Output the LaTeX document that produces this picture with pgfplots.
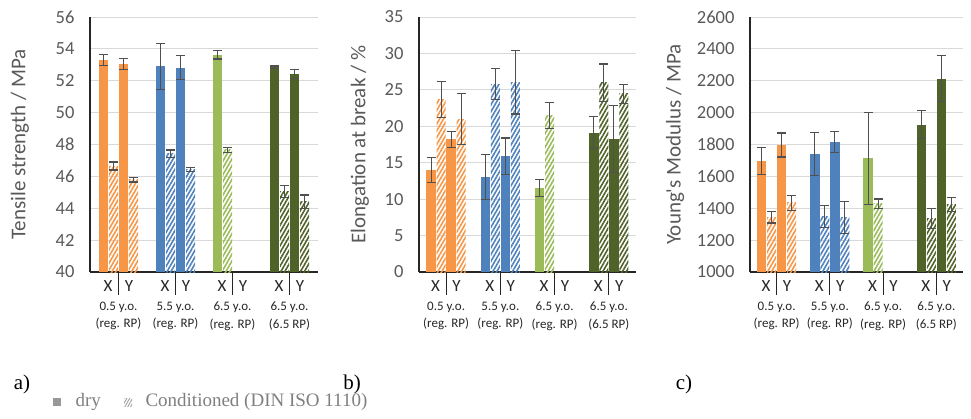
\documentclass[border=0pt]{standalone}
\usepackage{fontspec}
\setmainfont{Liberation Serif}
\newfontfamily\calibri{Carlito}
\usepackage{pgfplots}
\pgfplotsset{compat=1.18}
\usetikzlibrary{patterns.meta}
\definecolor{orng}{HTML}{F79646}
\definecolor{blu}{HTML}{4F81BD}
\definecolor{lgrn}{HTML}{9BBB59}
\definecolor{dgrn}{HTML}{4F6228}
\definecolor{errc}{HTML}{505050}
\definecolor{tickc}{HTML}{595959}
\definecolor{gridc}{HTML}{D9D9D9}
\definecolor{legc}{HTML}{7F7F7F}
\pgfplotsset{
  panel/.style={
    scale only axis, height=255pt,
    xmin=0, xmax=4, xtick=\empty,
    axis x line*=bottom, axis y line*=left,
    axis line style={-, black!85, line width=1.1pt},
    ymajorgrids, grid style={gridc, line width=0.9pt},
    major tick length=0pt,
    tick label style={font=\calibri\fontsize{18.5}{18.5}\selectfont, text=tickc},
    yticklabel style={xshift=-12pt},
    /pgf/number format/assume math mode=true,
    /pgf/number format/1000 sep={},
    ylabel style={font=\calibri\fontsize{21}{21}\selectfont, text=tickc, anchor=center},
    clip mode=individual,
  },
  eb/.style={error bars/y dir=both, error bars/y explicit,
    error bars/error mark=-,
    error bars/error bar style={errc, line width=1.2pt},
    error bars/error mark options={rotate=90, errc, line width=1.2pt, mark size=4.5pt}},
  dry/.style={ybar, bar shift=0pt, bar width=9.5pt, draw=none, fill=#1, eb},
  cond/.style={ybar, bar shift=0pt, bar width=9pt, draw=none, pattern={Lines[angle=60,distance=3.4pt,line width=1.6pt]}, pattern color=#1, eb},
}
\newcommand\B[6]{%
  \pgfmathsetmacro\xx{#4+#3/\unitpt}%
  \edef\tmp{\noexpand\addplot[#1=#2] coordinates {(\xx,#5) +- (0,#6)};}\tmp}
\newcommand\catlabels{%
  \pgfplotsinvokeforeach{0.125,0.375,0.625,0.875}{%
    \draw[black!85, line width=1pt] (rel axis cs:##1,0) -- ([yshift=-23pt]rel axis cs:##1,0);
    \node[font=\calibri\fontsize{17}{17}\selectfont, text=black!85] at ([xshift=-10.5pt,yshift=-14pt]rel axis cs:##1,0) {X};
    \node[font=\calibri\fontsize{17}{17}\selectfont, text=black!85] at ([xshift=10.5pt,yshift=-14pt]rel axis cs:##1,0) {Y};
  }
  \node[grp] at ([yshift=-44pt]rel axis cs:0.125,0) {0.5 y.o.\\(reg. RP)};
  \node[grp] at ([yshift=-44pt]rel axis cs:0.375,0) {5.5 y.o.\\(reg. RP)};
  \node[grp] at ([yshift=-44pt]rel axis cs:0.625,0) {6.5 y.o.\\(reg. RP)};
  \node[grp] at ([yshift=-44pt]rel axis cs:0.875,0) {6.5 y.o.\\(6.5 RP)};
}
\tikzset{grp/.style={font=\calibri\fontsize{13}{17.5}\selectfont, text=black!85, align=center}}
\begin{document}
\begin{tikzpicture}
\path[use as bounding box] (0,0) rectangle (971pt,418pt);
% ---------------- a) Tensile strength
\def\unitpt{57}
\begin{axis}[panel, at={(90pt,146pt)}, anchor=south west, width=228pt,
  ymin=40, ymax=56, ytick={40,42,...,56},
  ylabel={Tensile strength / MPa}, ylabel style={at={(axis description cs:-0.307,0.5)}}]
\B{dry}{orng}{-15}{0.5}{53.32}{0.35}
\B{cond}{orng}{-5}{0.5}{46.65}{0.25}
\B{dry}{orng}{5}{0.5}{53.05}{0.35}
\B{cond}{orng}{15}{0.5}{45.8}{0.15}
\B{dry}{blu}{-15}{1.5}{52.9}{1.45}
\B{cond}{blu}{-5}{1.5}{47.43}{0.23}
\B{dry}{blu}{5}{1.5}{52.82}{0.75}
\B{cond}{blu}{15}{1.5}{46.42}{0.12}
\B{dry}{lgrn}{-15}{2.5}{53.63}{0.26}
\B{cond}{lgrn}{-5}{2.5}{47.66}{0.17}
\B{dry}{dgrn}{-15}{3.5}{52.85}{0.08}
\B{cond}{dgrn}{-5}{3.5}{45.05}{0.36}
\B{dry}{dgrn}{5}{3.5}{52.42}{0.3}
\B{cond}{dgrn}{15}{3.5}{44.41}{0.42}
\catlabels
\end{axis}
% ---------------- b) Elongation
\def\unitpt{54.25}
\begin{axis}[panel, at={(419pt,146pt)}, anchor=south west, width=217pt,
  ymin=0, ymax=35, ytick={0,5,...,35},
  ylabel={Elongation at break / \%}, ylabel style={at={(axis description cs:-0.272,0.5)}}]
\B{dry}{orng}{-15}{0.5}{14.0}{1.7}
\B{cond}{orng}{-5}{0.5}{23.7}{2.45}
\B{dry}{orng}{5}{0.5}{18.2}{1.1}
\B{cond}{orng}{15}{0.5}{21.0}{3.5}
\B{dry}{blu}{-15}{1.5}{13.0}{3.1}
\B{cond}{blu}{-5}{1.5}{25.8}{2.1}
\B{dry}{blu}{5}{1.5}{15.9}{2.5}
\B{cond}{blu}{15}{1.5}{26.05}{4.35}
\B{dry}{lgrn}{-15}{2.5}{11.55}{1.15}
\B{cond}{lgrn}{-5}{2.5}{21.5}{1.8}
\B{dry}{dgrn}{-15}{3.5}{19.1}{2.2}
\B{cond}{dgrn}{-5}{3.5}{26.0}{2.55}
\B{dry}{dgrn}{5}{3.5}{18.25}{4.6}
\B{cond}{dgrn}{15}{3.5}{24.45}{1.3}
\catlabels
\end{axis}
% ---------------- c) Young's modulus
\def\unitpt{53.25}
\begin{axis}[panel, at={(750pt,146pt)}, anchor=south west, width=213pt,
  ymin=1000, ymax=2600, ytick={1000,1200,...,2600},
  ylabel={Young's Modulus / MPa}, ylabel style={at={(axis description cs:-0.352,0.5)}}]
\B{dry}{orng}{-15}{0.5}{1695}{85}
\B{cond}{orng}{-5}{0.5}{1345}{37}
\B{dry}{orng}{5}{0.5}{1797}{75}
\B{cond}{orng}{15}{0.5}{1434}{47}
\B{dry}{blu}{-15}{1.5}{1740}{136}
\B{cond}{blu}{-5}{1.5}{1348}{70}
\B{dry}{blu}{5}{1.5}{1816}{68}
\B{cond}{blu}{15}{1.5}{1340}{100}
\B{dry}{lgrn}{-15}{2.5}{1713}{287}
\B{cond}{lgrn}{-5}{2.5}{1428}{30}
\B{dry}{dgrn}{-15}{3.5}{1925}{88}
\B{cond}{dgrn}{-5}{3.5}{1334}{62}
\B{dry}{dgrn}{5}{3.5}{2214}{145}
\B{cond}{dgrn}{15}{3.5}{1422}{43}
\catlabels
\end{axis}
% panel letters
\node[font=\fontsize{21}{21}\selectfont] at (22pt,34pt) {a)};
\node[font=\fontsize{21}{21}\selectfont] at (352pt,34pt) {b)};
\node[font=\fontsize{21}{21}\selectfont] at (684pt,34pt) {c)};
% legend
\fill[legc!80] (53pt,12pt) rectangle (61pt,20pt);
\node[anchor=west, text=legc, font=\fontsize{19}{19}\selectfont] at (72pt,16pt) {dry};
\fill[pattern={Lines[angle=60,distance=2.5pt,line width=1pt]}, pattern color=legc!70] (124pt,12pt) rectangle (132pt,20pt);
\node[anchor=west, text=legc, font=\fontsize{19}{19}\selectfont] at (142pt,16pt) {Conditioned (DIN ISO 1110)};
\end{tikzpicture}
\end{document}
